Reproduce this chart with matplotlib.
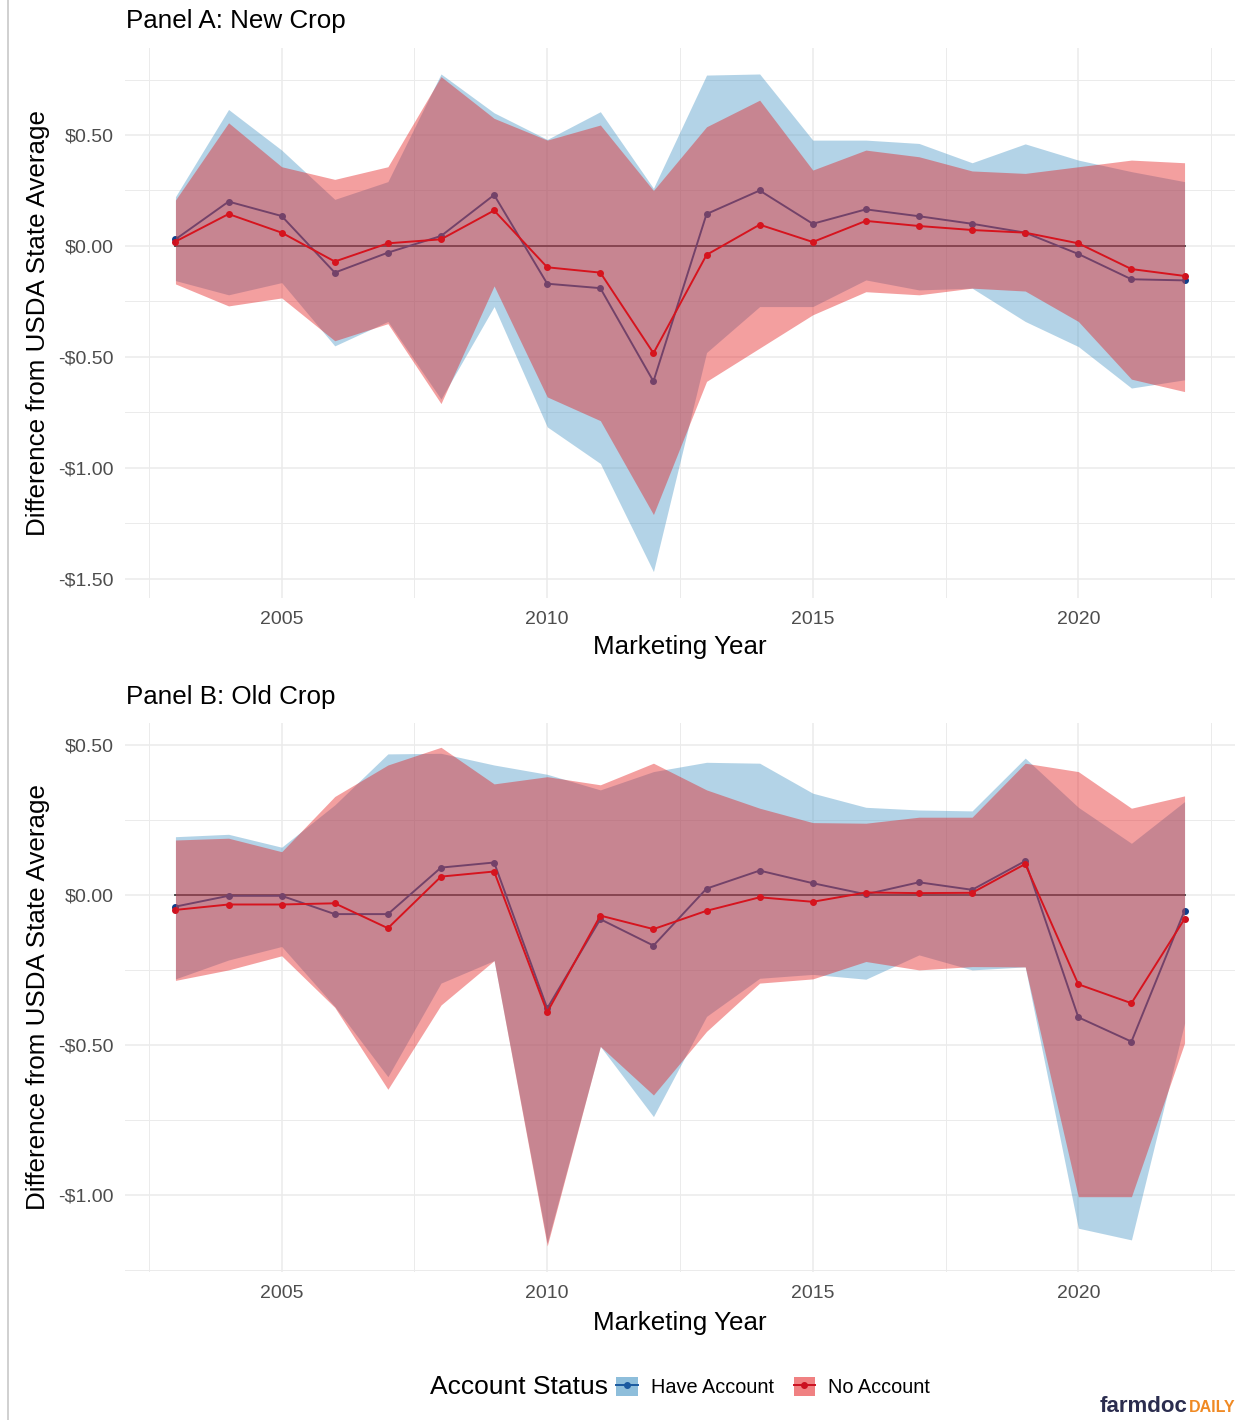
import numpy as np
import matplotlib
matplotlib.use("Agg")
import matplotlib.pyplot as plt
from matplotlib.patches import Patch
from matplotlib.lines import Line2D
from matplotlib.ticker import FuncFormatter, MultipleLocator

plt.rcParams['font.family'] = ['Liberation Sans', 'DejaVu Sans']

# data ........................................................................
years = list(range(2003, 2023))

# Panel A: New Crop
a_have_mean = [0.03, 0.20, 0.135, -0.12, -0.03, 0.045, 0.23, -0.17, -0.19, -0.61,
               0.144, 0.25, 0.10, 0.165, 0.134, 0.10, 0.06, -0.036, -0.15, -0.155]
a_no_mean = [0.02, 0.144, 0.06, -0.07, 0.012, 0.03, 0.16, -0.096, -0.12, -0.483,
             -0.04, 0.096, 0.018, 0.113, 0.09, 0.072, 0.06, 0.012, -0.104, -0.135]
a_have_hi = [0.222, 0.615, 0.432, 0.21, 0.29, 0.775, 0.60, 0.48, 0.605, 0.26,
             0.77, 0.775, 0.477, 0.477, 0.462, 0.375, 0.46, 0.387, 0.335, 0.29]
a_no_hi = [0.207, 0.555, 0.357, 0.30, 0.357, 0.763, 0.575, 0.477, 0.545, 0.25,
           0.537, 0.657, 0.342, 0.432, 0.402, 0.338, 0.327, 0.357, 0.387, 0.375]
a_have_lo = [-0.156, -0.22, -0.165, -0.45, -0.34, -0.69, -0.273, -0.815, -0.98, -1.467,
             -0.48, -0.273, -0.273, -0.153, -0.198, -0.19, -0.34, -0.453, -0.64, -0.603]
a_no_lo = [-0.171, -0.27, -0.234, -0.427, -0.35, -0.71, -0.18, -0.68, -0.787, -1.21,
           -0.61, -0.46, -0.31, -0.206, -0.22, -0.19, -0.203, -0.34, -0.60, -0.656]

# Panel B: Old Crop
b_have_mean = [-0.039, -0.003, -0.003, -0.064, -0.064, 0.091, 0.108, -0.378, -0.081, -0.169,
               0.021, 0.081, 0.039, 0.002, 0.042, 0.017, 0.113, -0.408, -0.489, -0.053]
b_no_mean = [-0.05, -0.032, -0.032, -0.028, -0.111, 0.061, 0.078, -0.391, -0.069, -0.114,
             -0.053, -0.008, -0.023, 0.008, 0.006, 0.007, 0.103, -0.298, -0.361, -0.08]
b_have_hi = [0.194, 0.202, 0.159, 0.30, 0.47, 0.472, 0.433, 0.402, 0.35, 0.411,
             0.442, 0.439, 0.339, 0.292, 0.283, 0.28, 0.456, 0.292, 0.172, 0.311]
b_no_hi = [0.183, 0.189, 0.144, 0.328, 0.433, 0.492, 0.37, 0.394, 0.367, 0.439,
           0.35, 0.289, 0.241, 0.239, 0.259, 0.259, 0.439, 0.411, 0.289, 0.33]
b_have_lo = [-0.28, -0.217, -0.172, -0.372, -0.606, -0.294, -0.219, -1.16, -0.505, -0.739,
             -0.405, -0.278, -0.265, -0.281, -0.20, -0.25, -0.24, -1.111, -1.15, -0.428]
b_no_lo = [-0.285, -0.25, -0.203, -0.375, -0.648, -0.367, -0.219, -1.17, -0.505, -0.667,
           -0.455, -0.294, -0.28, -0.222, -0.25, -0.239, -0.24, -1.006, -1.006, -0.494]

labels = ['Have Account', 'No Account']

BLUE_FILL, BLUE_LINE = '#4393c3', '#0f3f8c'
RED_FILL, RED_LINE = '#e41a1c', '#cc1020'
GRID = '#ebebeb'


def dollars(v, pos):
    if abs(v) < 1e-9:
        return '$0.00'
    return ('-' if v < 0 else '') + '${:.2f}'.format(abs(v))


def panel(ax, have, no, ylim, ymajor):
    h_mean, h_lo, h_hi = have
    n_mean, n_lo, n_hi = no
    ax.plot([years[0], years[-1]], [0, 0], color='#3a3a3a', lw=1.3, zorder=1)
    ax.plot(years, h_mean, color=BLUE_LINE, lw=1.4, marker='o', ms=4, zorder=2)
    ax.fill_between(years, h_lo, h_hi, color=BLUE_FILL, alpha=0.4, lw=0, zorder=3)
    ax.plot(years, n_mean, color=RED_LINE, lw=1.4, marker='o', ms=4, zorder=4)
    ax.fill_between(years, n_lo, n_hi, color=RED_FILL, alpha=0.42, lw=0, zorder=5)

    ax.set_xlim(2002.05, 2022.95)
    ax.set_ylim(*ylim)
    ax.xaxis.set_major_locator(MultipleLocator(5))
    ax.xaxis.set_minor_locator(MultipleLocator(2.5))
    ax.yaxis.set_major_locator(MultipleLocator(ymajor))
    ax.yaxis.set_minor_locator(MultipleLocator(ymajor / 2))
    ax.yaxis.set_major_formatter(FuncFormatter(dollars))
    ax.grid(which='major', color=GRID, lw=1.1, zorder=0)
    ax.grid(which='minor', color=GRID, lw=0.7, zorder=0)
    ax.set_axisbelow(True)
    for s in ax.spines.values():
        s.set_visible(False)
    ax.tick_params(which='both', length=0, labelsize=14, labelcolor='#4d4d4d')
    ax.tick_params(axis='x', pad=9)
    ax.tick_params(axis='y', pad=8)


def main():
    fig = plt.figure(figsize=(12.5, 14.2), dpi=100)
    W, H = 1250, 1420

    ax_a = fig.add_axes([125 / W, 1 - 598 / H, 1110 / W, 550 / H])
    ax_b = fig.add_axes([125 / W, 1 - 1272 / H, 1110 / W, 549 / H])

    panel(ax_a, (a_have_mean, a_have_lo, a_have_hi), (a_no_mean, a_no_lo, a_no_hi),
          (-1.586, 0.892), 0.5)
    panel(ax_b, (b_have_mean, b_have_lo, b_have_hi), (b_no_mean, b_no_lo, b_no_hi),
          (-1.257, 0.573), 0.5)

    # titles and axis labels ..................................................
    fig.text(126 / W, 1 - 21 / H, 'Panel A: New Crop', fontsize=18.7, va='center')
    fig.text(126 / W, 1 - 697 / H, 'Panel B: Old Crop', fontsize=18.7, va='center')
    for yc in (647, 1323):
        fig.text(680 / W, 1 - yc / H, 'Marketing Year', fontsize=18.7,
                 ha='center', va='center')
    for yc in (323, 997):
        fig.text(38 / W, 1 - yc / H, 'Difference from USDA State Average',
                 fontsize=18.7, rotation=90, ha='center', va='center')

    # legend ..................................................................
    handles = [
        (Patch(facecolor=BLUE_FILL, alpha=0.6, edgecolor='none'),
         Line2D([], [], color='#1a5aa0', lw=1.4, marker='o', ms=4)),
        (Patch(facecolor=RED_FILL, alpha=0.55, edgecolor='none'),
         Line2D([], [], color=RED_LINE, lw=1.4, marker='o', ms=4)),
    ]
    fig.text(430 / W, 1 - 1387 / H, 'Account Status', fontsize=19, va='center')
    fig.legend(handles, labels, ncol=2, frameon=False, fontsize=14.3,
               loc='center left', bbox_to_anchor=(606 / W, 1 - 1387 / H),
               handlelength=1.1, handleheight=1.1, handletextpad=0.65,
               columnspacing=1.0, borderpad=0)

    # logo
    fig.text(1187 / W, 1 - 1406 / H, 'farmdoc', fontsize=16, fontweight='bold',
             color='#2b2d4f', ha='right', va='center')
    fig.text(1236 / W, 1 - 1408 / H, 'DAILY', fontsize=11.5, fontweight='bold',
             color='#f08a24', ha='right', va='center')

    # screenshot border on the left
    fig.add_artist(Line2D([8 / W, 8 / W], [0, 1], color='#c8c8c8', lw=1.2))

    fig.savefig('out.png', dpi=100, facecolor='white')


if __name__ == '__main__':
    main()
